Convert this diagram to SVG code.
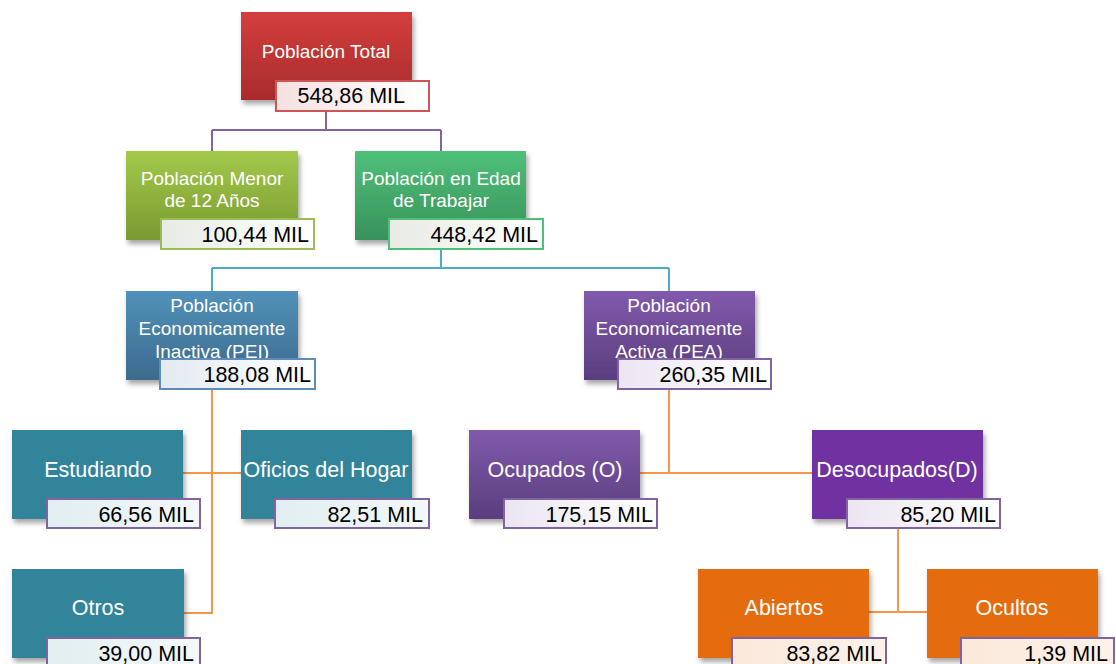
<svg xmlns="http://www.w3.org/2000/svg" width="1116" height="664" viewBox="0 0 1116 664">
<style>
.t{font-family:"Liberation Sans",Arial,sans-serif;fill:#ffffff;text-anchor:middle;font-size:19px}
.tb{font-size:21.5px}
.n{font-family:"Liberation Sans",Arial,sans-serif;fill:#000000;text-anchor:end;font-size:21.5px}
.box{filter:url(#sh)}
.lab{stroke-width:2}
.c{fill:none;stroke-width:2}
.cp{stroke:#8064a2}
.cb{stroke:#4bacc6}
.co{stroke:#f79646}
</style>
<defs>
<filter id="sh" x="-10%" y="-10%" width="125%" height="130%">
<feDropShadow dx="2" dy="4" stdDeviation="2.5" flood-color="#000" flood-opacity="0.35"/>
</filter>
<linearGradient id="gRed" x1="0" y1="0" x2="0" y2="1"><stop offset="0" stop-color="#d43e3e"/><stop offset="1" stop-color="#a82b2b"/></linearGradient>
<linearGradient id="gMen" x1="0" y1="0" x2="0" y2="1"><stop offset="0" stop-color="#a3c94b"/><stop offset="1" stop-color="#7a9a30"/></linearGradient>
<linearGradient id="gEda" x1="0" y1="0" x2="0" y2="1"><stop offset="0" stop-color="#4fc07a"/><stop offset="1" stop-color="#38925a"/></linearGradient>
<linearGradient id="gPei" x1="0" y1="0" x2="0" y2="1"><stop offset="0" stop-color="#5291ba"/><stop offset="1" stop-color="#3c6b8d"/></linearGradient>
<linearGradient id="gPea" x1="0" y1="0" x2="0" y2="1"><stop offset="0" stop-color="#815aab"/><stop offset="1" stop-color="#5b3d7f"/></linearGradient>
<linearGradient id="lRed" x1="0" y1="0" x2="1" y2="0"><stop offset="0" stop-color="#f6e0e0"/><stop offset="1" stop-color="#ffffff"/></linearGradient>
<linearGradient id="lGrn" x1="0" y1="0" x2="1" y2="0"><stop offset="0" stop-color="#e7ebe3"/><stop offset="1" stop-color="#ffffff"/></linearGradient>
<linearGradient id="lBlu" x1="0" y1="0" x2="1" y2="0"><stop offset="0" stop-color="#e2eaf0"/><stop offset="1" stop-color="#ffffff"/></linearGradient>
<linearGradient id="lPur" x1="0" y1="0" x2="1" y2="0"><stop offset="0" stop-color="#ebe5f1"/><stop offset="1" stop-color="#ffffff"/></linearGradient>
<linearGradient id="lTea" x1="0" y1="0" x2="1" y2="0"><stop offset="0" stop-color="#e1eef1"/><stop offset="1" stop-color="#f4f8f9"/></linearGradient>
<linearGradient id="lOra" x1="0" y1="0" x2="1" y2="0"><stop offset="0" stop-color="#fbe8da"/><stop offset="1" stop-color="#fdf2ea"/></linearGradient>
</defs>
<rect width="1116" height="664" fill="#ffffff"/>
<g id="connectors">
<path class="c cp" d="M326,111 V130 M212,130 H441 M212,130 V151 M441,130 V151"/>
<path class="c cb" d="M441,249 V268 M212,268 H669 M212,268 V291 M669,268 V291"/>
<path class="c co" d="M212,389 V613 H183 M183,473 H241"/>
<path class="c co" d="M669,389 V473 M640,473 H812"/>
<path class="c co" d="M898,528 V612 M869,612 H927"/>
</g>
<g id="n-total">
<rect class="box" x="241" y="12" width="171" height="88" fill="url(#gRed)"/>
<text class="t" x="326" y="58">Población Total</text>
<rect class="lab" x="276" y="81" width="153" height="30" fill="url(#lRed)" stroke="#cc5656"/>
<text class="n" x="405" y="103">548,86 MIL</text>
</g>
<g id="n-menor">
<rect class="box" x="126" y="151" width="172" height="89" fill="url(#gMen)"/>
<text class="t" x="212" y="185">Población Menor</text>
<text class="t" x="212" y="207">de 12 Años</text>
<rect class="lab" x="161" y="219" width="153" height="30" fill="url(#lGrn)" stroke="#9bbb59"/>
<text class="n" x="309" y="242">100,44 MIL</text>
</g>
<g id="n-edad">
<rect class="box" x="355" y="151" width="171" height="89" fill="url(#gEda)"/>
<text class="t" x="441" y="185">Población en Edad</text>
<text class="t" x="441" y="207">de Trabajar</text>
<rect class="lab" x="389" y="219" width="154" height="30" fill="url(#lGrn)" stroke="#4fbf7a"/>
<text class="n" x="538" y="242">448,42 MIL</text>
</g>
<g id="n-pei">
<rect class="box" x="126" y="291" width="172" height="89" fill="url(#gPei)"/>
<text class="t" x="212" y="312">Población</text>
<text class="t" x="212" y="335">Economicamente</text>
<text class="t" x="212" y="358">Inactiva (PEI)</text>
<rect class="lab" x="160" y="359" width="155" height="30" fill="url(#lBlu)" stroke="#5b8db8"/>
<text class="n" x="311" y="382">188,08 MIL</text>
</g>
<g id="n-pea">
<rect class="box" x="584" y="291" width="171" height="89" fill="url(#gPea)"/>
<text class="t" x="669" y="312">Población</text>
<text class="t" x="669" y="335">Economicamente</text>
<text class="t" x="669" y="358">Activa (PEA)</text>
<rect class="lab" x="618" y="359" width="153" height="30" fill="url(#lPur)" stroke="#8064a2"/>
<text class="n" x="767" y="382">260,35 MIL</text>
</g>
<g id="n-estudiando">
<rect class="box" x="12" y="430" width="171" height="89" fill="#31849b"/>
<text class="t tb" x="98" y="477">Estudiando</text>
<rect class="lab" x="47" y="499" width="153" height="29" fill="url(#lTea)" stroke="#8064a2"/>
<text class="n" x="194" y="522">66,56 MIL</text>
</g>
<g id="n-oficios">
<rect class="box" x="241" y="430" width="171" height="89" fill="#31849b"/>
<text class="t tb" x="326" y="477">Oficios del Hogar</text>
<rect class="lab" x="275" y="499" width="154" height="29" fill="url(#lTea)" stroke="#8064a2"/>
<text class="n" x="423" y="522">82,51 MIL</text>
</g>
<g id="n-ocupados">
<rect class="box" x="469" y="430" width="171" height="89" fill="url(#gPea)"/>
<text class="t tb" x="555" y="477">Ocupados (O)</text>
<rect class="lab" x="504" y="499" width="153" height="29" fill="url(#lPur)" stroke="#8064a2"/>
<text class="n" x="653" y="522">175,15 MIL</text>
</g>
<g id="n-desocupados">
<rect class="box" x="812" y="430" width="171" height="89" fill="#7030a0"/>
<text class="t tb" x="897" y="477">Desocupados(D)</text>
<rect class="lab" x="847" y="499" width="153" height="29" fill="url(#lPur)" stroke="#8064a2"/>
<text class="n" x="996" y="522">85,20 MIL</text>
</g>
<g id="n-otros">
<rect class="box" x="12" y="569" width="172" height="89" fill="#31849b"/>
<text class="t tb" x="98" y="615">Otros</text>
<rect class="lab" x="47" y="638" width="153" height="30" fill="url(#lTea)" stroke="#8064a2"/>
<text class="n" x="194" y="661">39,00 MIL</text>
</g>
<g id="n-abiertos">
<rect class="box" x="698" y="569" width="171" height="89" fill="#e46c0a"/>
<text class="t tb" x="784" y="615">Abiertos</text>
<rect class="lab" x="732" y="638" width="154" height="30" fill="url(#lOra)" stroke="#8064a2"/>
<text class="n" x="882" y="661">83,82 MIL</text>
</g>
<g id="n-ocultos">
<rect class="box" x="927" y="569" width="171" height="89" fill="#e46c0a"/>
<text class="t tb" x="1012" y="615">Ocultos</text>
<rect class="lab" x="961" y="638" width="153" height="30" fill="url(#lOra)" stroke="#8064a2"/>
<text class="n" x="1108" y="661">1,39 MIL</text>
</g>
</svg>
